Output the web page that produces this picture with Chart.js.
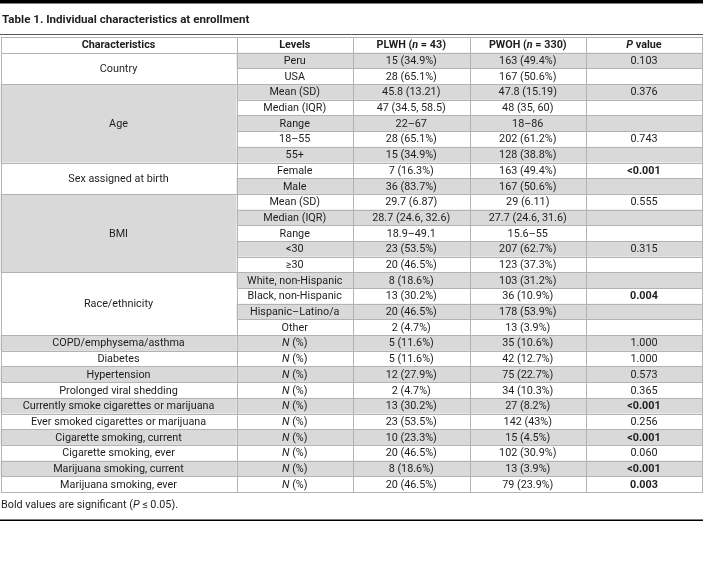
<!DOCTYPE html>
<html>
<head>
<meta charset="utf-8">
<script src="https://cdn.jsdelivr.net/npm/chart.js@4.4.1/dist/chart.umd.min.js"></script>
<style>
  html, body { margin: 0; padding: 0; background: #fff; }
  #wrap { width: 703px; height: 575px; position: relative; }
</style>
</head>
<body>
<div id="wrap"><canvas id="table1"></canvas></div>
<script>
// table content, _x_ marks italic text
const title = 'Table 1. Individual characteristics at enrollment';
const footnote = 'Bold values are significant (_P_ ≤ 0.05).';
const headers = ['Characteristics', 'Levels', 'PLWH (_n_ = 43)', 'PWOH (_n_ = 330)', '_P_ value'];

const groupNames = ['Country', 'Age', 'Sex assigned at birth', 'BMI', 'Race/ethnicity',
  'COPD/emphysema/asthma', 'Diabetes', 'Hypertension', 'Prolonged viral shedding',
  'Currently smoke cigarettes or marijuana', 'Ever smoked cigarettes or marijuana',
  'Cigarette smoking, current', 'Cigarette smoking, ever', 'Marijuana smoking, current',
  'Marijuana smoking, ever'];
const groupSpans = [2, 5, 2, 5, 4, 1, 1, 1, 1, 1, 1, 1, 1, 1, 1];

const levels = ['Peru', 'USA', 'Mean (SD)', 'Median (IQR)', 'Range', '18–55', '55+',
  'Female', 'Male', 'Mean (SD)', 'Median (IQR)', 'Range', '<30', '≥30',
  'White, non-Hispanic', 'Black, non-Hispanic', 'Hispanic–Latino/a', 'Other',
  '_N_ (%)', '_N_ (%)', '_N_ (%)', '_N_ (%)', '_N_ (%)', '_N_ (%)', '_N_ (%)', '_N_ (%)', '_N_ (%)', '_N_ (%)'];
const plwh = ['15 (34.9%)', '28 (65.1%)', '45.8 (13.21)', '47 (34.5, 58.5)', '22–67', '28 (65.1%)', '15 (34.9%)',
  '7 (16.3%)', '36 (83.7%)', '29.7 (6.87)', '28.7 (24.6, 32.6)', '18.9–49.1', '23 (53.5%)', '20 (46.5%)',
  '8 (18.6%)', '13 (30.2%)', '20 (46.5%)', '2 (4.7%)', '5 (11.6%)', '5 (11.6%)', '12 (27.9%)', '2 (4.7%)',
  '13 (30.2%)', '23 (53.5%)', '10 (23.3%)', '20 (46.5%)', '8 (18.6%)', '20 (46.5%)'];
const pwoh = ['163 (49.4%)', '167 (50.6%)', '47.8 (15.19)', '48 (35, 60)', '18–86', '202 (61.2%)', '128 (38.8%)',
  '163 (49.4%)', '167 (50.6%)', '29 (6.11)', '27.7 (24.6, 31.6)', '15.6–55', '207 (62.7%)', '123 (37.3%)',
  '103 (31.2%)', '36 (10.9%)', '178 (53.9%)', '13 (3.9%)', '35 (10.6%)', '42 (12.7%)', '75 (22.7%)', '34 (10.3%)',
  '27 (8.2%)', '142 (43%)', '15 (4.5%)', '102 (30.9%)', '13 (3.9%)', '79 (23.9%)'];
const pValues = ['0.103', '', '0.376', '', '', '0.743', '', '<0.001', '', '0.555', '', '', '0.315', '',
  '', '0.004', '', '', '1.000', '1.000', '0.573', '0.365', '<0.001', '0.256', '<0.001', '0.060', '<0.001', '0.003'];

const FONT = 'Roboto, "Open Sans", sans-serif';
const FONT_SIZE = 10.8;
const GREY = '#d9d9d9';
const RULE = '#b3b3b3';
const INK = '#1e1e1e';
// column edges in x-scale units (pixels of the 703 wide page)
const colEdges = [0.5, 236.5, 353, 469.5, 586, 702];

function isSignificant(p) {
  if (!p) return false;
  if (p.startsWith('<')) return true;
  return parseFloat(p) <= 0.05;
}

// draw text with _italic_ runs
function drawRuns(ctx, str, x, y, bold, align) {
  const parts = str.split('_');
  const runs = parts.map((t, i) => ({
    t: t,
    font: (i % 2 ? 'italic ' : '') + (bold ? 'bold ' : '') + FONT_SIZE + 'px ' + FONT
  })).filter(r => r.t.length);
  let total = 0;
  runs.forEach(r => { ctx.font = r.font; r.w = ctx.measureText(r.t).width; total += r.w; });
  let cx = align === 'left' ? x : x - total / 2;
  ctx.textAlign = 'left';
  runs.forEach(r => {
    ctx.font = r.font;
    ctx.fillText(r.t, cx, y);
    cx += r.w;
  });
}

const tablePlugin = {
  id: 'tableDraw',
  afterDraw(chart) {
    const ctx = chart.ctx;
    const xs = chart.scales.x;
    const ys = chart.scales.y;
    const nRows = levels.length + 1;
    const px = v => Math.round(xs.getPixelForValue(v)) + 0.5;
    const py = v => Math.round(ys.getPixelForValue(v)) + 0.5;
    const W = chart.width;

    ctx.save();
    ctx.textBaseline = 'middle';
    ctx.fillStyle = INK;

    // top rule and title
    ctx.fillStyle = '#000';
    ctx.fillRect(0, 0, W, 3.5);
    ctx.fillStyle = INK;
    ctx.font = 'bold 11.6px ' + FONT;
    ctx.fillText(title, 2, ys.getPixelForValue(-1.1));
    ctx.strokeStyle = '#555';
    ctx.lineWidth = 1;
    ctx.beginPath();
    ctx.moveTo(0, py(-0.2));
    ctx.lineTo(W, py(-0.2));
    ctx.stroke();

    // shaded cells
    ctx.fillStyle = GREY;
    levels.forEach((lv, i) => {
      if (i % 2 === 0) {
        const top = ys.getPixelForValue(i + 1), bot = ys.getPixelForValue(i + 2);
        ctx.fillRect(xs.getPixelForValue(colEdges[1]), top, xs.getPixelForValue(colEdges[5]) - xs.getPixelForValue(colEdges[1]), bot - top);
      }
    });
    let start = 1;
    groupSpans.forEach((span, g) => {
      if (g % 2 === 1) {
        const top = ys.getPixelForValue(start), bot = ys.getPixelForValue(start + span);
        ctx.fillRect(xs.getPixelForValue(colEdges[0]), top, xs.getPixelForValue(colEdges[1]) - xs.getPixelForValue(colEdges[0]), bot - top);
      }
      start += span;
    });

    // rules
    ctx.strokeStyle = RULE;
    ctx.lineWidth = 1;
    ctx.beginPath();
    const groupStarts = [];
    start = 1;
    groupSpans.forEach(span => { groupStarts.push(start); start += span; });
    for (let r = 0; r <= nRows; r++) {
      const full = r === 0 || r === nRows || groupStarts.includes(r);
      ctx.moveTo(px(full ? colEdges[0] : colEdges[1]) - 0.5, py(r));
      ctx.lineTo(px(colEdges[5]) + 0.5, py(r));
    }
    colEdges.forEach(c => {
      ctx.moveTo(px(c), py(0));
      ctx.lineTo(px(c), py(nRows));
    });
    ctx.stroke();

    // headers
    ctx.fillStyle = INK;
    const centers = [
      (colEdges[0] + colEdges[1]) / 2, (colEdges[1] + colEdges[2]) / 2,
      (colEdges[2] + colEdges[3]) / 2, (colEdges[3] + colEdges[4]) / 2,
      (colEdges[4] + colEdges[5]) / 2
    ];
    headers.forEach((h, c) => drawRuns(ctx, h, xs.getPixelForValue(centers[c]), ys.getPixelForValue(0.55), true));

    // group names
    start = 1;
    groupNames.forEach((name, g) => {
      const mid = start + groupSpans[g] / 2 + 0.05;
      drawRuns(ctx, name, xs.getPixelForValue(centers[0]), ys.getPixelForValue(mid), false);
      start += groupSpans[g];
    });

    // row cells
    levels.forEach((lv, i) => {
      const yy = ys.getPixelForValue(i + 1.55);
      drawRuns(ctx, lv, xs.getPixelForValue(centers[1]), yy, false);
      drawRuns(ctx, plwh[i], xs.getPixelForValue(centers[2]), yy, false);
      drawRuns(ctx, pwoh[i], xs.getPixelForValue(centers[3]), yy, false);
      if (pValues[i]) drawRuns(ctx, pValues[i], xs.getPixelForValue(centers[4]), yy, isSignificant(pValues[i]));
    });

    // footnote and bottom rule
    drawRuns(ctx, footnote, 1, ys.getPixelForValue(nRows + 0.85), false, 'left');
    ctx.fillStyle = '#000';
    ctx.fillRect(0, ys.getPixelForValue(nRows + 1.8) - 0.75, W, 1.5);
    ctx.restore();
  }
};

// row units: header row is 0, data rows 1..28
const ROW_PX = 15.69;
const TOP_PX = 37;

new Chart(document.getElementById('table1'), {
  type: 'scatter',
  data: { datasets: [{ data: [] }] },
  options: {
    animation: false,
    responsive: true,
    maintainAspectRatio: false,
    layout: { padding: 0 },
    plugins: { legend: { display: false }, tooltip: { enabled: false } },
    scales: {
      x: { type: 'linear', display: false, min: 0, max: 703 },
      y: { type: 'linear', display: false, reverse: true, min: -TOP_PX / ROW_PX, max: (575 - TOP_PX) / ROW_PX }
    }
  },
  plugins: [tablePlugin]
});
</script>
</body>
</html>
